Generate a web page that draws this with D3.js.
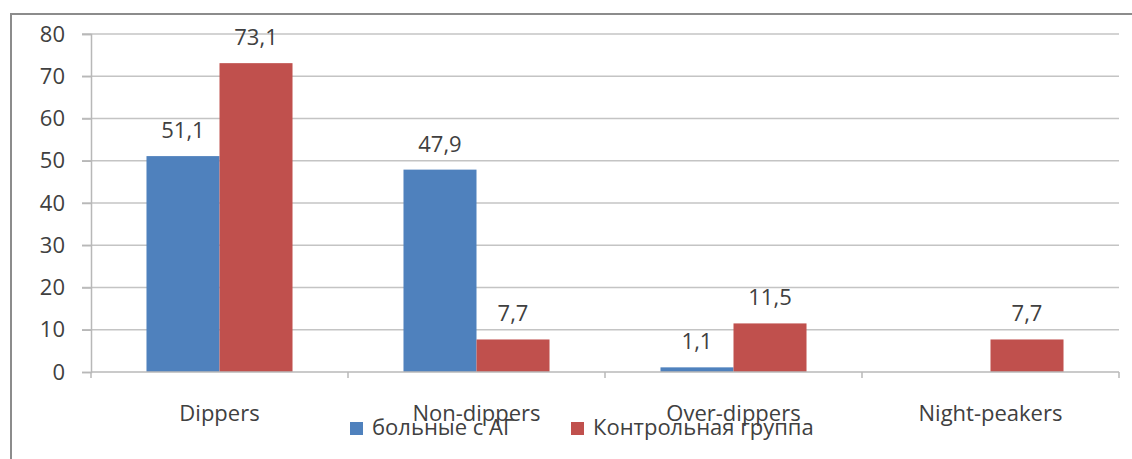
<!DOCTYPE html>
<html>
<head>
<meta charset="utf-8">
<script src="https://cdn.jsdelivr.net/npm/d3@7"></script>
<style>
  html, body { margin: 0; padding: 0; background: #fff; }
  svg { display: block; }
  text { font-family: "Open Sans", Lato, sans-serif; fill: #404040; }
</style>
</head>
<body>
<svg id="chart" width="1132" height="459"></svg>
<script>
// Dipping profile groups
const categories = ["Dippers", "Non-dippers", "Over-dippers", "Night-peakers"];
const seriesNames = ["больные с АГ", "Контрольная группа"];
const patientsAH = [51.1, 47.9, 1.1, 0];
const controlGroup = [73.1, 7.7, 11.5, 7.7];
const yTicks = [0, 10, 20, 30, 40, 50, 60, 70, 80];
const colors = ["#4f81bd", "#c0504d"];

const svg = d3.select("#chart");
const W = 1132, H = 459;
const plotLeft = 91, plotRight = 1119, plotTop = 34, plotBottom = 372;
const fontSize = "22px";

// outer frame (top and left edges visible)
svg.append("path")
  .attr("d", `M11,${H} L11,14 L${W},14`)
  .attr("fill", "none").attr("stroke", "#8c8c8c").attr("stroke-width", 2);

const x0 = d3.scaleBand().domain(categories).range([plotLeft, plotRight]).paddingInner(0).paddingOuter(0);
const x1 = d3.scaleBand().domain([0, 1]).range([0, x0.bandwidth()]).paddingInner(0).paddingOuter(0.76);
const y = d3.scaleLinear().domain([0, 80]).range([plotBottom, plotTop]);

// gridlines
svg.append("g").selectAll("line").data(yTicks.filter(d => d > 0)).join("line")
  .attr("x1", plotLeft - 9).attr("x2", plotRight)
  .attr("y1", d => y(d)).attr("y2", d => y(d))
  .attr("stroke", "#c4c4c4").attr("stroke-width", 1.5);

// y axis
const yAxis = svg.append("g").attr("transform", `translate(${plotLeft},0)`)
  .call(d3.axisLeft(y).tickValues(yTicks).tickSize(9).tickPadding(17));
yAxis.select(".domain").attr("stroke", "#b8b8b8").attr("stroke-width", 1.5);
yAxis.selectAll(".tick line").attr("stroke", "#b8b8b8").attr("stroke-width", 1.5);
yAxis.selectAll(".tick text").style("font-size", fontSize).style("fill", "#404040")
  .style("font-family", "\"Open Sans\", sans-serif");

// bars
const data = categories.map((c, i) => ({ c, v: [patientsAH[i], controlGroup[i]] }));
const groups = svg.append("g").selectAll("g").data(data).join("g")
  .attr("transform", d => `translate(${x0(d.c)},0)`);
groups.selectAll("rect").data(d => d.v.map((v, k) => ({ v, k }))).join("rect")
  .attr("x", d => x1(d.k)).attr("width", x1.bandwidth())
  .attr("y", d => y(d.v)).attr("height", d => y(0) - y(d.v))
  .attr("fill", d => colors[d.k]);

// value labels
groups.selectAll("text.val").data(d => d.v.map((v, k) => ({ v, k })).filter(d => d.v > 0)).join("text")
  .attr("class", "val")
  .attr("x", d => x1(d.k) + x1.bandwidth() / 2)
  .attr("y", d => y(d.v) - 18)
  .attr("text-anchor", "middle")
  .style("font-size", fontSize)
  .text(d => d3.format(".1f")(d.v).replace(".", ","));

// x axis
const xAxis = svg.append("g").attr("transform", `translate(0,${plotBottom})`);
xAxis.append("line").attr("x1", plotLeft).attr("x2", plotRight).attr("stroke", "#b8b8b8").attr("stroke-width", 1.5);
xAxis.selectAll("line.t").data(d3.range(categories.length + 1)).join("line")
  .attr("class", "t")
  .attr("x1", i => plotLeft + i * x0.step()).attr("x2", i => plotLeft + i * x0.step())
  .attr("y1", 0).attr("y2", 6).attr("stroke", "#b8b8b8").attr("stroke-width", 1.5);
xAxis.selectAll("text").data(categories).join("text")
  .attr("x", d => x0(d) + x0.bandwidth() / 2).attr("y", 49)
  .attr("text-anchor", "middle").style("font-size", fontSize)
  .text(d => d);

// legend
const legendX = [350, 571];
const legend = svg.append("g").selectAll("g").data(seriesNames).join("g")
  .attr("transform", (d, i) => `translate(${legendX[i]},422)`);
legend.append("rect").attr("width", 13).attr("height", 13).attr("fill", (d, i) => colors[i]);
legend.append("text").attr("x", 22).attr("y", 13).style("font-size", fontSize).text(d => d);
</script>
</body>
</html>
